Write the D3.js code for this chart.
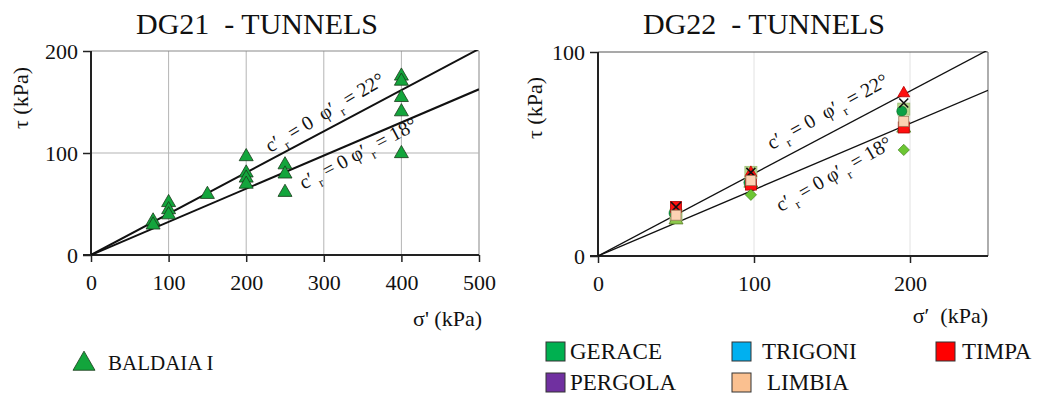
<!DOCTYPE html>
<html>
<head>
<title>DG21 / DG22 - Tunnels</title>
<script src="https://d3js.org/d3.v7.min.js"></script>
<style>
  body { margin: 0; background: #fff; }
  svg text { font-family: "Liberation Serif", "Times New Roman", serif; fill: #111; white-space: pre; }
</style>
</head>
<body>
<svg width="1038" height="394" font-family="Liberation Serif, Times New Roman, serif"></svg>
<script>
// ---- data ----
// DG21 - BALDAIA I (sigma', tau)
const baldaiaSigma = [80, 80, 100, 100, 100, 150, 200, 200, 200, 200, 250, 250, 250, 400, 400, 400, 400, 400];
const baldaiaTau   = [34, 30, 52, 45, 40, 60, 97, 81, 76, 70, 89, 80, 62, 176, 171, 155, 141, 100];

// DG22 - several sites, markers overlap at sigma' ~ 50, 98, 196
const dg22Sigma = [50, 98, 196];
const paleSquareTau = [20, 41, 72];     // pale green square (behind)
const limeTriangleTau = [18, 36, 63];   // light green triangle
const geraceTau = [21, 36, 71];         // green circle
const timpaTau = [24, 35, 63];          // red square
const timpaCrossTau = [24, null, null]; // cross on red square
const timpaTriTau = [null, 41, 80];     // red triangle
const crossTau = [null, 41, 75];        // black cross
const limbiaTau = [20, 37, 66];         // peach square
const diamondTau = [null, 30, 52];      // green diamond

const phiAngles = [22, 18];
const leftXTicks = [0, 100, 200, 300, 400, 500];
const leftYTicks = [0, 100, 200];
const rightXTicks = [0, 100, 200];
const rightYTicks = [0, 100];

const legendNames = ["GERACE", "TRIGONI", "TIMPA", "PERGOLA", "LIMBIA"];
const legendColors = ["#00b050", "#00b0f0", "#ff0000", "#7030a0", "#fac090"];

const FONT = "Liberation Serif, Times New Roman, serif";
const svg = d3.select("svg");

// ---- helpers ----
function drawPanel(o) {
  const g = svg.append("g");
  const x = d3.scaleLinear().domain(o.xDomain).range([o.left, o.right]);
  const y = d3.scaleLinear().domain(o.yDomain).range([o.bottom, o.top]);

  // grid
  g.selectAll(".vg").data(o.xTicks.slice(1)).enter().append("line")
    .attr("x1", d => x(d)).attr("x2", d => x(d))
    .attr("y1", o.top).attr("y2", o.bottom)
    .attr("stroke", o.gridColor).attr("stroke-width", 1);
  g.selectAll(".hg").data(o.yTicks.slice(1)).enter().append("line")
    .attr("x1", o.left).attr("x2", o.right)
    .attr("y1", d => y(d)).attr("y2", d => y(d))
    .attr("stroke", d => d === o.yDomain[1] ? o.topColor : o.gridColor).attr("stroke-width", 1.2);
  if (o.rightBorder) {
    g.append("line").attr("x1", o.right).attr("x2", o.right)
      .attr("y1", o.top).attr("y2", o.bottom)
      .attr("stroke", o.rightBorder).attr("stroke-width", 1.2);
  }

  // axes
  const xAxis = g.append("g").attr("transform", `translate(0,${o.bottom})`)
    .call(d3.axisBottom(x).tickValues(o.xTicks).tickSize(7).tickPadding(12));
  const yAxis = g.append("g").attr("transform", `translate(${o.left},0)`)
    .call(d3.axisLeft(y).tickValues(o.yTicks).tickSize(8).tickPadding(5));
  [xAxis, yAxis].forEach(a => {
    a.attr("font-family", FONT).attr("font-size", 22);
    a.select(".domain").attr("stroke", "#222").attr("stroke-width", 2);
    a.selectAll(".tick line").attr("stroke", "#222").attr("stroke-width", 1.5);
    a.selectAll(".tick text").attr("font-family", FONT).attr("font-size", 22).attr("fill", "#111");
  });
  yAxis.select(".domain").attr("d", `M0,${o.top}V${o.bottom}`);
  xAxis.select(".domain").attr("d", `M${o.left - 8},0H${o.right}`);

  // failure envelopes
  const clip = "clip" + o.id;
  svg.append("clipPath").attr("id", clip).append("rect")
    .attr("x", o.left).attr("y", o.top - 1).attr("width", o.right - o.left).attr("height", o.bottom - o.top + 1);
  g.selectAll(".env").data(phiAngles).enter().append("line")
    .attr("clip-path", `url(#${clip})`)
    .attr("x1", x(0)).attr("y1", y(0))
    .attr("x2", x(o.xDomain[1])).attr("y2", d => y(o.xDomain[1] * Math.tan(d * Math.PI / 180)))
    .attr("stroke", "#111").attr("stroke-width", o.lineWidth);

  // titles
  g.append("text").attr("x", o.titleX).attr("y", 34)
    .attr("text-anchor", "middle").attr("font-size", 30).text(o.title);
  g.append("text").attr("transform", `translate(${o.yTitleX},${o.yTitleY}) rotate(-90)`)
    .attr("text-anchor", "middle").attr("font-size", 22).text("τ (kPa)");
  g.append("text").attr("x", o.right + o.xTitleShift).attr("y", o.xTitleY)
    .attr("text-anchor", "end").attr("font-size", 22).text(o.xTitle);

  // envelope labels
  o.labels.forEach((l, i) => {
    const t = g.append("text")
      .attr("transform", `translate(${x(l.s)},${y(l.t)}) rotate(${l.rot})`)
      .attr("text-anchor", "middle").attr("dy", "0.35em").attr("font-size", 20);
    t.append("tspan").text("c′");
    t.append("tspan").attr("dy", 6).attr("font-size", 13).text(" r");
    t.append("tspan").attr("dy", -6).text(l.gap ? " = 0  φ′" : " = 0 φ′");
    t.append("tspan").attr("dy", 6).attr("font-size", 13).text(" r");
    t.append("tspan").attr("dy", -6).text(` = ${phiAngles[i]}°`);
  });
  return { g, x, y };
}

function triPath(s) {
  const h = s * 0.87;
  return `M0,${-h * 0.62}L${s / 2},${h * 0.38}L${-s / 2},${h * 0.38}Z`;
}

// ---- left panel: DG21 ----
const L = drawPanel({
  id: "L", left: 91, right: 479, top: 51, bottom: 255,
  xDomain: [0, 500], yDomain: [0, 200], xTicks: leftXTicks, yTicks: leftYTicks,
  gridColor: "#b4b4b4", topColor: "#8a8a8a", rightBorder: "#b4b4b4", lineWidth: 2,
  title: "DG21  - TUNNELS", titleX: 257,
  yTitleX: 28, yTitleY: 98, xTitle: "σ' (kPa)", xTitleShift: 3, xTitleY: 326,
  labels: [{ s: 301, t: 140, rot: -31, gap: true }, { s: 344, t: 100, rot: -28, gap: false }]
});
L.g.selectAll(".bald").data(baldaiaSigma).enter().append("path")
  .attr("transform", (d, i) => `translate(${L.x(d)},${L.y(baldaiaTau[i])})`)
  .attr("d", triPath(14))
  .attr("fill", "#13a53c").attr("stroke", "#1a3a1a").attr("stroke-width", 0.8);

// ---- right panel: DG22 ----
const R = drawPanel({
  id: "R", left: 598, right: 988, top: 52, bottom: 256,
  xDomain: [0, 250], yDomain: [0, 100], xTicks: rightXTicks, yTicks: rightYTicks,
  gridColor: "#e2e2e2", topColor: "#555", rightBorder: "#777", lineWidth: 1.3,
  title: "DG22  - TUNNELS", titleX: 764,
  yTitleX: 542, yTitleY: 108, xTitle: "σ′  (kPa)", xTitleShift: 0, xTitleY: 323,
  labels: [{ s: 147, t: 71, rot: -29, gap: true }, { s: 151, t: 40.4, rot: -30, gap: false }]
});

function pts(tau) {
  return dg22Sigma.map((s, i) => ({ s, t: tau[i] })).filter(d => d.t !== null);
}
function squares(tau, size, fill, stroke) {
  R.g.selectAll(null).data(pts(tau)).enter().append("rect")
    .attr("x", d => R.x(d.s) - size / 2).attr("y", d => R.y(d.t) - size / 2)
    .attr("width", size).attr("height", size)
    .attr("fill", fill).attr("stroke", stroke).attr("stroke-width", 0.8);
}
function tris(tau, size, fill, stroke) {
  R.g.selectAll(null).data(pts(tau)).enter().append("path")
    .attr("transform", d => `translate(${R.x(d.s)},${R.y(d.t)})`)
    .attr("d", triPath(size)).attr("fill", fill).attr("stroke", stroke).attr("stroke-width", 0.8);
}
function crosses(tau, size) {
  R.g.selectAll(null).data(pts(tau)).enter().append("path")
    .attr("transform", d => `translate(${R.x(d.s)},${R.y(d.t)})`)
    .attr("d", `M${-size / 2},${-size / 2}L${size / 2},${size / 2}M${size / 2},${-size / 2}L${-size / 2},${size / 2}`)
    .attr("stroke", "#111").attr("stroke-width", 1.6);
}

squares(paleSquareTau, 12, "#b8d88f", "#9cbf70");
tris(limeTriangleTau, 14, "#8cc84b", "#5a7a2a");
R.g.selectAll(null).data(pts(geraceTau)).enter().append("circle")
  .attr("cx", d => R.x(d.s) - 2).attr("cy", d => R.y(d.t)).attr("r", 5)
  .attr("fill", "#0aa145").attr("stroke", "#0a6a2a").attr("stroke-width", 0.6);
squares(timpaTau, 11, "#ff1010", "#a00");
crosses(timpaCrossTau, 10);
tris(timpaTriTau, 12, "#ff0d0d", "#b00");
crosses(crossTau, 9);
squares(limbiaTau, 10, "#fcd2b4", "#9a7a5a");
R.g.selectAll(null).data(pts(diamondTau)).enter().append("path")
  .attr("transform", d => `translate(${R.x(d.s)},${R.y(d.t)}) rotate(45)`)
  .attr("d", "M-4,-4H4V4H-4Z").attr("fill", "#6cc633").attr("stroke", "#3a7a1a").attr("stroke-width", 0.6);

// ---- legends ----
const lg = svg.append("g");
lg.append("path").attr("transform", "translate(84,363)").attr("d", triPath(22))
  .attr("fill", "#13a53c").attr("stroke", "#1a3a1a").attr("stroke-width", 0.8);
lg.append("text").attr("x", 108).attr("y", 370).attr("font-size", 21).text("BALDAIA I");

const legendX = [546, 732, 936, 546, 732];
const legendY = [342, 342, 342, 373, 373];
const legendTextX = [570, 762, 962, 570, 767];
legendNames.forEach((n, i) => {
  lg.append("rect").attr("x", legendX[i]).attr("y", legendY[i]).attr("width", 19).attr("height", 19)
    .attr("fill", legendColors[i]).attr("stroke", "#333").attr("stroke-width", 1);
  lg.append("text").attr("x", legendTextX[i]).attr("y", legendY[i] + 17)
    .attr("font-size", 23).text(n);
});
</script>
</body>
</html>
